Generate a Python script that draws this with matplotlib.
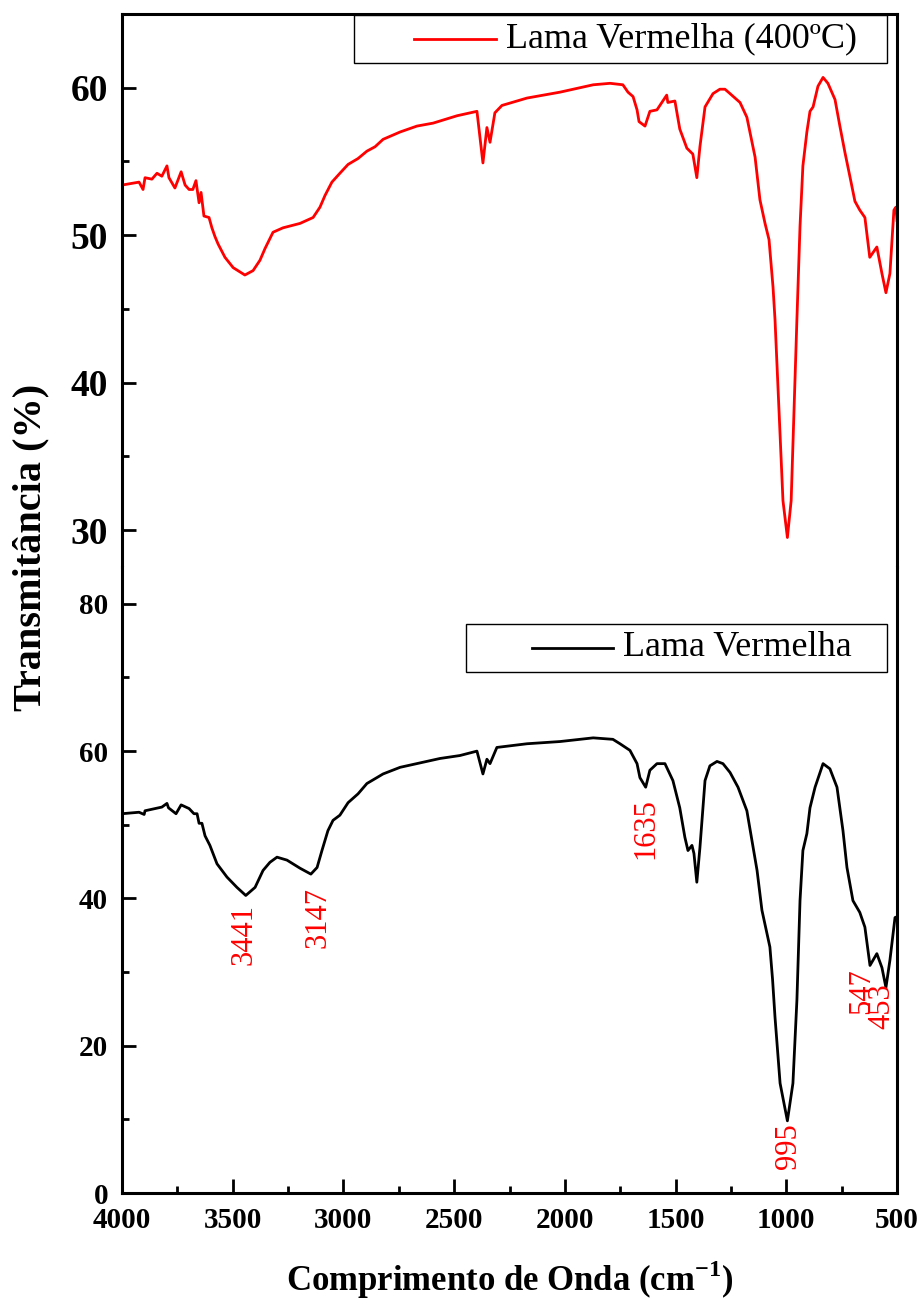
import matplotlib
matplotlib.use("Agg")
import matplotlib.pyplot as plt
from matplotlib.patches import Rectangle
from matplotlib.ticker import MultipleLocator

plt.rcParams['font.family'] = ['Liberation Serif', 'DejaVu Serif']
plt.rcParams['mathtext.fontset'] = 'custom'
plt.rcParams['mathtext.rm'] = 'Liberation Serif'
plt.rcParams['mathtext.bf'] = 'Liberation Serif:bold'

# FTIR spectrum, calcined red mud (400 ºC)
red_wn = [4000, 3923, 3905, 3896, 3865, 3842, 3820, 3797, 3788, 3761,
          3733, 3715, 3697, 3680, 3666, 3652, 3643, 3630, 3607, 3594,
          3580, 3566, 3535, 3498, 3445, 3408, 3377, 3354, 3318, 3273,
          3196, 3137, 3106, 3083, 3052, 3016, 2979, 2934, 2894, 2857,
          2821, 2744, 2668, 2595, 2487, 2397, 2370, 2352, 2338, 2316,
          2284, 2171, 2022, 1872, 1796, 1738, 1715, 1692, 1674, 1665,
          1638, 1616, 1584, 1562, 1540, 1535, 1503, 1481, 1449, 1422,
          1404, 1390, 1367, 1331, 1300, 1277, 1254, 1209, 1178, 1141,
          1119, 1096, 1078, 1060, 1051, 1015, 995, 978, 952, 938,
          925, 907, 893, 879, 857, 834, 812, 780, 758, 735,
          713, 690, 668, 645, 623, 591, 568, 550, 532, 514,
          505, 500]
red_t = [53.4, 53.6, 53.1, 53.9, 53.8, 54.2, 54.0, 54.7, 53.9, 53.2,
         54.3, 53.4, 53.1, 53.1, 53.7, 52.2, 52.9, 51.3, 51.2, 50.5,
         49.9, 49.4, 48.5, 47.8, 47.3, 47.6, 48.3, 49.1, 50.2, 50.5,
         50.8, 51.2, 51.9, 52.7, 53.6, 54.2, 54.8, 55.2, 55.7, 56.0,
         56.5, 57.0, 57.4, 57.6, 58.1, 58.4, 54.9, 57.3, 56.3, 58.3,
         58.8, 59.3, 59.7, 60.2, 60.3, 60.2, 59.7, 59.4, 58.5, 57.7,
         57.4, 58.4, 58.5, 59.0, 59.5, 59.0, 59.1, 57.2, 55.9, 55.5,
         53.9, 56.0, 58.7, 59.6, 59.9, 59.9, 59.6, 59.0, 58.0, 55.3,
         52.4, 50.8, 49.7, 46.5, 44.3, 32.0, 29.5, 32.0, 44.3, 50.6,
         54.7, 57.0, 58.4, 58.7, 60.1, 60.7, 60.3, 59.2, 57.4, 55.6,
         54.0, 52.3, 51.7, 51.2, 48.5, 49.2, 47.4, 46.1, 47.4, 51.7,
         51.9, 51.0]

# FTIR spectrum, raw red mud
blk_wn = [4000, 3923, 3900, 3896, 3820, 3797, 3790, 3756, 3733, 3697,
          3675, 3661, 3652, 3639, 3625, 3603, 3580, 3571, 3526, 3481,
          3441, 3399, 3363, 3332, 3300, 3255, 3196, 3147, 3119, 3097,
          3070, 3047, 3016, 2979, 2934, 2894, 2849, 2821, 2744, 2654,
          2564, 2474, 2397, 2370, 2352, 2338, 2307, 2171, 2022, 1872,
          1783, 1751, 1706, 1674, 1661, 1635, 1616, 1584, 1548, 1512,
          1481, 1458, 1444, 1426, 1417, 1404, 1390, 1367, 1345, 1313,
          1286, 1254, 1218, 1178, 1132, 1110, 1074, 1062, 1051, 1028,
          995, 970, 952, 938, 925, 907, 893, 870, 834, 803,
          771, 744, 726, 699, 668, 645, 622, 591, 568, 550,
          532, 509, 500]
blk_t = [51.5, 51.7, 51.4, 51.9, 52.4, 52.9, 52.3, 51.5, 52.7, 52.2,
         51.5, 51.5, 50.2, 50.2, 48.5, 47.2, 45.4, 44.7, 42.9, 41.5,
         40.4, 41.5, 43.8, 44.9, 45.6, 45.2, 44.1, 43.3, 44.2, 46.5,
         49.2, 50.6, 51.3, 53.0, 54.2, 55.6, 56.4, 56.9, 57.8, 58.4,
         59.0, 59.4, 60.0, 56.9, 58.9, 58.3, 60.5, 61.0, 61.3, 61.8,
         61.6, 61.0, 60.1, 58.3, 56.4, 55.1, 57.4, 58.3, 58.3, 56.0,
         52.3, 48.3, 46.5, 47.2, 46.1, 42.2, 46.9, 56.0, 58.0, 58.6,
         58.3, 57.1, 55.1, 51.9, 43.8, 38.4, 33.4, 29.0, 23.9, 14.9,
         9.8, 14.9, 26.2, 39.7, 46.5, 48.8, 52.3, 55.1, 58.3, 57.6,
         55.1, 49.2, 44.2, 39.7, 38.1, 36.1, 30.9, 32.5, 30.6, 27.9,
         31.6, 37.4, 37.5]

# band labels on the raw sample
band_text = ['3441', '3147', '1635', '995', '547', '453']
band_x = [3450, 3115, 1634, 988, 659, 568]
band_y = [39.3, 41.5, 53.6, 9.5, 30.5, 28.5]

W, H = 921, 1306
fig = plt.figure(figsize=(W / 100, H / 100), dpi=100)

left, right = 122, 897
ax_top = fig.add_axes([left / W, 1 - 567 / H, (right - left) / W, (567 - 14) / H])
ax_bot = fig.add_axes([left / W, 1 - 1193 / H, (right - left) / W, (1193 - 567) / H])

ax_top.plot(red_wn, red_t, color='#ff0000', lw=2.0)
ax_bot.plot(blk_wn, blk_t, color='black', lw=2.0)

for ax in (ax_top, ax_bot):
    ax.set_xlim(4000, 500)
    for s in ax.spines.values():
        s.set_linewidth(2.2)
    ax.tick_params(which='major', direction='in', length=10, width=2.0)
    ax.tick_params(which='minor', direction='in', length=5, width=2.0)
    ax.tick_params(right=False, top=False, which='both')
    ax.xaxis.set_major_locator(MultipleLocator(500))
    ax.xaxis.set_minor_locator(MultipleLocator(250))

ax_top.spines['bottom'].set_visible(False)
ax_bot.spines['top'].set_visible(False)
ax_top.tick_params(axis='x', which='both', bottom=False, labelbottom=False)

ax_top.set_ylim(27.5, 65)
ax_top.set_yticks([30, 40, 50, 60])
ax_top.yaxis.set_minor_locator(MultipleLocator(5))
ax_top.tick_params(axis='y', labelsize=27, pad=10)
for lab in ax_top.get_yticklabels():
    lab.set_fontweight('bold')

ax_bot.set_ylim(0, 85)
ax_bot.set_yticks([0, 20, 40, 60, 80])
ax_bot.yaxis.set_minor_locator(MultipleLocator(10))
ax_bot.tick_params(axis='y', labelsize=21, pad=10)
ax_bot.tick_params(axis='x', labelsize=21, pad=10)
for lab in ax_bot.get_yticklabels() + ax_bot.get_xticklabels():
    lab.set_fontweight('bold')

for txt, x, y in zip(band_text, band_x, band_y):
    ax_bot.text(x, y, txt, color='#ff0000', fontsize=22, rotation=90,
                ha='center', va='top')


def boxed_legend(ax, box, line_x, text_x, y, color, label):
    # framed legend drawn in axes coordinates
    x0, y0, x1, y1 = box
    ax.add_patch(Rectangle((x0, y0), x1 - x0, y1 - y0, transform=ax.transAxes,
                           fill=False, edgecolor='black', lw=1.0, zorder=5))
    ax.plot(line_x, [y, y], transform=ax.transAxes, color=color, lw=2.0, zorder=5)
    ax.text(text_x, y, label, transform=ax.transAxes, fontsize=26,
            ha='left', va='center', zorder=5)


boxed_legend(ax_top, (0.299, 0.911, 0.987, 0.998), [0.377, 0.482], 0.495,
             0.955, '#ff0000', 'Lama Vermelha (400ºC)')
boxed_legend(ax_bot, (0.444, 0.832, 0.987, 0.909), [0.529, 0.634], 0.647,
             0.871, 'black', 'Lama Vermelha')

fig.text(31 / W, 1 - 547 / H, 'Transmitância (%)', rotation=90, fontsize=29,
         fontweight='bold', ha='center', va='center')
fig.text(510 / W, 1 - 1280 / H, r'Comprimento de Onda (cm$^{\mathbf{-1}}$)',
         fontsize=25, fontweight='bold', ha='center', va='center')

fig.savefig('out.png', dpi=100)
